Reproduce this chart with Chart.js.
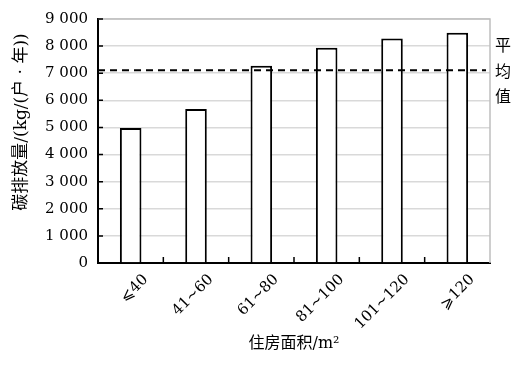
<!DOCTYPE html>
<html>
<head>
<meta charset="utf-8">
<script src="https://cdn.jsdelivr.net/npm/chart.js@4.4.1/dist/chart.umd.min.js"></script>
<style>
  html, body { margin: 0; padding: 0; background: #fff; }
</style>
</head>
<body>
<canvas id="chart" width="524" height="365"></canvas>
<script>
// data
const categories = ['⩽40', '41~60', '61~80', '81~100', '101~120', '⩾120'];
const emissions = [4980, 5680, 7280, 7940, 8280, 8490];
const meanValue = 7110;
const yTicks = [0, 1000, 2000, 3000, 4000, 5000, 6000, 7000, 8000, 9000];
const yTitle = '碳排放量/(kg/(户 · 年))';
const xTitle = '住房面积/m²';
const meanLabel = ['平', '均', '值'];

const serif = '"DejaVu Serif", "Liberation Serif", serif';
const mixed = '"DejaVu Serif", "Noto Sans CJK SC", serif';
const cjk = '"Noto Sans CJK SC", sans-serif';

function fmt(v) {
    return String(v).replace(/\B(?=(\d{3})+(?!\d))/g, ' ');
}

const extras = {
    id: 'extras',
    beforeDatasetsDraw(chart) {
        const { ctx, chartArea: a, scales: { x, y } } = chart;
        ctx.save();
        // grey frame on top/right
        ctx.strokeStyle = '#bfbfbf';
        ctx.lineWidth = 1.5;
        ctx.beginPath();
        ctx.moveTo(a.left, a.top);
        ctx.lineTo(a.right, a.top);
        ctx.lineTo(a.right, a.bottom);
        ctx.stroke();
        // inner ticks
        ctx.strokeStyle = '#000';
        ctx.lineWidth = 1.5;
        ctx.beginPath();
        yTicks.forEach(v => {
            const py = y.getPixelForValue(v);
            ctx.moveTo(a.left, py);
            ctx.lineTo(a.left + 5, py);
        });
        for (let i = 1; i < categories.length; i++) {
            const px = x.getPixelForValue(i - 0.5);
            ctx.moveTo(px, a.bottom);
            ctx.lineTo(px, a.bottom - 6);
        }
        ctx.stroke();
        ctx.restore();
    },
    afterDatasetsDraw(chart) {
        const { ctx, chartArea: a, scales: { y } } = chart;
        ctx.save();
        // mean line
        const my = y.getPixelForValue(meanValue);
        ctx.strokeStyle = '#000';
        ctx.lineWidth = 2;
        ctx.setLineDash([7, 5]);
        ctx.beginPath();
        ctx.moveTo(a.left, my);
        ctx.lineTo(a.right - 4, my);
        ctx.stroke();
        ctx.setLineDash([]);
        // mean label, stacked vertically
        ctx.fillStyle = '#000';
        ctx.font = '16px ' + cjk;
        ctx.textAlign = 'center';
        ctx.textBaseline = 'middle';
        meanLabel.forEach((ch, i) => ctx.fillText(ch, a.right + 13, my - 25 + i * 25.5));
        // y title
        ctx.translate(22, 122);
        ctx.rotate(-Math.PI / 2);
        ctx.font = '17px ' + mixed;
        ctx.fillText(yTitle, 0, 0);
        ctx.restore();
    }
};

new Chart(document.getElementById('chart'), {
    type: 'bar',
    data: {
        labels: categories,
        datasets: [{
            data: emissions,
            backgroundColor: '#fff',
            borderColor: '#000',
            borderWidth: 2,
            categoryPercentage: 1,
            barPercentage: 0.33
        }]
    },
    options: {
        responsive: false,
        animation: false,
        layout: { padding: { left: 0, right: 34, top: 16, bottom: 0 } },
        plugins: { legend: { display: false }, tooltip: { enabled: false } },
        scales: {
            y: {
                min: 0,
                max: 9000,
                afterFit: s => { s.width = 98; },
                ticks: {
                    stepSize: 1000,
                    color: '#000',
                    padding: 10,
                    font: { family: serif, size: 15 },
                    callback: v => fmt(v)
                },
                grid: { color: '#d9d9d9', lineWidth: 1.5, drawTicks: false },
                border: { color: '#000', width: 2 }
            },
            x: {
                afterFit: s => { s.height = 102; },
                grid: { display: false },
                border: { color: '#000', width: 2 },
                ticks: {
                    color: '#000',
                    maxRotation: 45,
                    minRotation: 45,
                    labelOffset: 15,
                    padding: 0,
                    font: { family: serif, size: 15 }
                },
                title: {
                    display: true,
                    text: xTitle,
                    color: '#000',
                    font: { family: mixed, size: 16 },
                    padding: { top: 0, bottom: 12 }
                }
            }
        }
    },
    plugins: [extras]
});
</script>
</body>
</html>
